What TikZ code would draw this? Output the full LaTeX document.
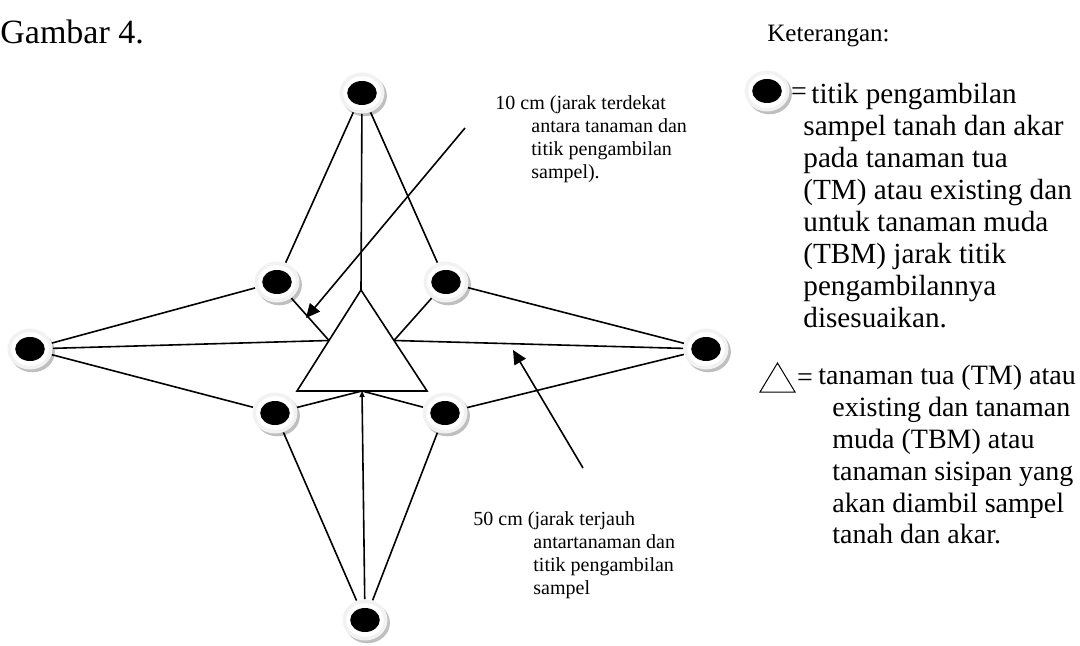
\documentclass[tikz,border=0pt]{standalone}
\usepackage{fontspec}
\setmainfont{Liberation Serif}
\usetikzlibrary{arrows.meta,shapes.geometric,shadows,calc}

\begin{document}
\begin{tikzpicture}[x=0.5pt,y=-0.5pt,
  spot/.style={ellipse, minimum width=22.5pt, minimum height=20.5pt,
    inner sep=0pt, fill=gray!10,
    drop shadow={shadow xshift=1.2pt, shadow yshift=-1.4pt, fill=gray!50, opacity=1},
    path picture={\fill[white] (path picture bounding box.center) ellipse (9.4pt and 8.4pt);
      \fill[black] (path picture bounding box.center) ellipse (7.4pt and 6pt);}},
  link/.style={line width=0.8pt},
  pointer/.style={line width=0.8pt, -{Triangle[length=7pt,width=6.5pt]}},
  note/.style={font=\fontsize{10}{11.5}\selectfont, align=left, inner sep=0pt,
    anchor=north west},
  legend/.style={font=\fontsize{14}{15.9}\selectfont, align=left, inner sep=0pt,
    anchor=north west}
]
\useasboundingbox (0,0) rectangle (1080,646);
% headings
\node[font=\fontsize{17}{20}\selectfont, inner sep=0pt, anchor=base west]
  (title) at (0,44) {Gambar 4.};
\node[font=\fontsize{12.5}{15}\selectfont, inner sep=0pt, anchor=base west]
  (keter) at (767,42) {Keterangan:};
% plant
\coordinate (tA) at (361,290);
\coordinate (tL) at (297,391);
\coordinate (tR) at (427,391);
\coordinate (mL) at ($(tA)!.5!(tL)$);
\coordinate (mR) at ($(tA)!.5!(tR)$);
\coordinate (mB) at ($(tL)!.5!(tR)$);
\draw[link, fill=white] (tA) -- (tL) -- (tR) -- cycle;
% sampling points
\node[spot] (top) at (362,93) {};
\node[spot] (left) at (30,349) {};
\node[spot] (right) at (706,349) {};
\node[spot] (bottom) at (365,620) {};
\node[spot] (upL) at (277,282) {};
\node[spot] (upR) at (446,282) {};
\node[spot] (lowL) at (275,413) {};
\node[spot] (lowR) at (445,413) {};
% connectors
\draw[link] (top) -- (upL);
\draw[link] (top) -- (tA);
\draw[link] (top) -- (upR);
\draw[link] (left) -- (upL);
\draw[link] (left) -- (mL);
\draw[link] (left) -- (lowL);
\draw[link] (right) -- (upR);
\draw[link] (right) -- (mR);
\draw[link] (right) -- (lowR);
\draw[link] (bottom) -- (lowL);
\draw[link, -{Triangle[length=3pt,width=2.5pt]}] (bottom) -- (mB);
\draw[link] (bottom) -- (lowR);
\draw[link] (upL) -- (mL);
\draw[link] (upR) -- (mR);
\draw[link] (lowL) -- (mB);
\draw[link] (lowR) -- (mB);
% distance notes
\node[note] (near) at (495,95) {10 cm (jarak terdekat\\\hspace*{18pt}antara tanaman dan\\
  \hspace*{18pt}titik pengambilan\\\hspace*{18pt}sampel).};
\node[note] (far) at (473,511) {50 cm (jarak terjauh\\\hspace*{30pt}antartanaman dan\\
  \hspace*{30pt}titik pengambilan\\\hspace*{30pt}sampel};
\coordinate (nearTail) at (465,128);
\coordinate (nearHead) at (306,318);
\coordinate (farTail) at (583,468);
\coordinate (farHead) at (513,350);
\draw[pointer] (nearTail) -- (nearHead);
\draw[pointer] (farTail) -- (farHead);
% legend
\node[spot] (keySpot) at (767,91) {};
\node[font=\fontsize{14}{15.9}\selectfont, inner sep=0pt] (eqA) at (799,94) {=};
\node[legend, font=\fontsize{14.6}{16}\selectfont] (keyA) at (803,83)
  {\hspace*{4pt}titik pengambilan\\sampel tanah dan akar\\
  pada tanaman tua\\(TM) atau existing dan\\untuk tanaman muda\\(TBM) jarak titik\\
  pengambilannya\\disesuaikan.};
\coordinate (kA) at (777.5,363);
\coordinate (kL) at (760,392);
\coordinate (kR) at (795,392);
\draw[line width=0.5pt] (kA) -- (kL) -- (kR) -- cycle;
\node[font=\fontsize{14}{15.9}\selectfont, inner sep=0pt] (eqB) at (805,380) {=};
\node[legend] (keyB) at (818,365) {tanaman tua (TM) atau\\\hspace*{7pt}existing dan tanaman\\
  \hspace*{7pt}muda (TBM) atau\\\hspace*{7pt}tanaman sisipan yang\\
  \hspace*{7pt}akan diambil sampel\\\hspace*{7pt}tanah dan akar.};
\end{tikzpicture}
\end{document}
